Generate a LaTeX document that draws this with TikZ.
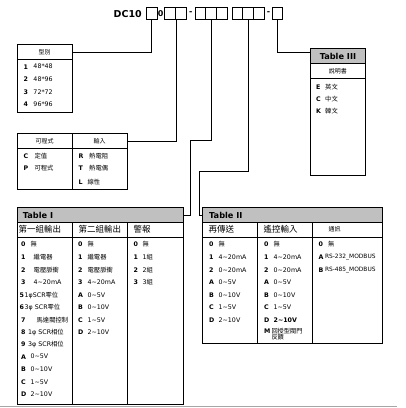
\documentclass[tikz,border=0pt]{standalone}
\usepackage{fontspec}
\setmainfont{DejaVu Sans}
\newfontfamily\cjk{Noto Sans CJK TC}
\definecolor{headgray}{RGB}{192,192,192}
\newcommand\tld{\textasciitilde}
\begin{document}
\begin{tikzpicture}[x=1pt,y=-1pt,
  frame/.style={draw=black, line width=0.9pt, rectangle, inner sep=0pt, anchor=north west},
  hdr/.style={frame, fill=headgray},
  tbox/.style={frame, minimum height=12pt},
  it/.style={anchor=west, inner sep=0pt, font=\fontsize{6.3}{7}\selectfont},
  lb/.style={anchor=west, inner sep=0pt, font=\fontsize{6.3}{7}\selectfont\bfseries},
  small/.style={font=\fontsize{6}{7}\cjk},
  colh/.style={anchor=west, inner sep=0pt, font=\fontsize{8.5}{9}\cjk},
  ttl/.style={inner sep=0pt, font=\fontsize{8.2}{9}\selectfont\bfseries},
  conn/.style={draw=black, line width=0.8pt}]
\useasboundingbox (0,0) rectangle (406,408);

% ---------- top code ----------
\node[anchor=west, inner sep=0pt, font=\fontsize{9.5}{10}\selectfont\bfseries] (dc) at (113.5,13.7) {DC10};
\node[tbox, minimum width=11.3pt] (b1) at (145.7,7.3) {};
\node[inner sep=0pt, font=\fontsize{8}{9}\selectfont\bfseries] (zero) at (160.6,13.7) {0};
\node[tbox, minimum width=11pt] (b2a) at (164.3,7.3) {};
\node[tbox, minimum width=10.7pt] (b2b) at (175.3,7.3) {};
\node[inner sep=0pt, font=\fontsize{8}{9}\selectfont\bfseries] (d1) at (190.8,13.5) {-};
\node[tbox, minimum width=10pt] (b3a) at (195,7.3) {};
\node[tbox, minimum width=11pt] (b3b) at (205,7.3) {};
\node[tbox, minimum width=10.7pt] (b3c) at (216,7.3) {};
\node[tbox, minimum width=10.3pt] (b4a) at (232,7.3) {};
\node[tbox, minimum width=11pt] (b4b) at (242.3,7.3) {};
\node[tbox, minimum width=10.4pt] (b4c) at (253.3,7.3) {};
\node[inner sep=0pt, font=\fontsize{8}{9}\selectfont\bfseries] (d2) at (268.5,13.5) {-};
\node[tbox, minimum width=10pt] (b5) at (272.3,7.3) {};

% ---------- type box ----------
\node[frame, minimum width=55pt, minimum height=15pt, small] (typehead) at (16.7,44.3) {型別};
\node[frame, minimum width=55pt, minimum height=52.4pt] (typebody) at (16.7,59.3) {};
\foreach \y/\l/\v [count=\i] in {66.7/1/48*48, 79.3/2/48*96, 92.3/3/72*72, 104.3/4/96*96}
  { \node[lb] (ty\i) at (23.3,\y) {\l}; \node[it] (tyv\i) at (33.3,\y) {\v}; }

% ---------- program / input box ----------
\node[frame, minimum width=55pt, minimum height=15.6pt, small] (inh1) at (16.7,132.7) {可程式};
\node[frame, minimum width=55pt, minimum height=15.6pt, small] (inh2) at (71.7,132.7) {輸入};
\node[frame, minimum width=55pt, minimum height=40.4pt] (inb1) at (16.7,148.3) {};
\node[frame, minimum width=55pt, minimum height=40.4pt] (inb2) at (71.7,148.3) {};
\node[lb] (pc) at (23.3,156) {C}; \node[it] (pcv) at (34.3,156) {\cjk 定值};
\node[lb] (pp) at (23.3,168.3) {P}; \node[it] (ppv) at (34.3,168.3) {\cjk 可程式};
\node[lb] (ir) at (78.3,156) {R}; \node[it] (irv) at (89,156) {\cjk 熱電阻};
\node[lb] (itt) at (78.3,168.3) {T}; \node[it] (itv) at (89,168.3) {\cjk 熱電偶};
\node[lb] (il) at (78.3,181.7) {L}; \node[it] (ilv) at (87.5,181.7) {\cjk 線性};

% ---------- Table III ----------
\node[hdr, minimum width=55pt, minimum height=15pt, ttl] (t3head) at (310,48.3) {Table III};
\node[frame, minimum width=55pt, minimum height=15pt, small] (t3sub) at (310,63.3) {說明書};
\node[frame, minimum width=55pt, minimum height=96.7pt] (t3body) at (310,78.3) {};
\foreach \y/\l/\v [count=\i] in {86.7/E/英文, 99.3/C/中文, 111/K/韓文}
  { \node[lb] (t3l\i) at (316,\y) {\l}; \node[it] (t3v\i) at (325,\y) {\cjk \v}; }

% ---------- Table I ----------
\node[hdr, minimum width=166pt, minimum height=15pt] (t1head) at (16.7,207.3) {};
\node[ttl, anchor=west] (t1title) at (22.7,215) {Table I};
\node[frame, minimum width=55pt, minimum height=14.4pt] (t1c1) at (16.7,222.3) {};
\node[frame, minimum width=55.6pt, minimum height=14.4pt] (t1c2) at (71.7,222.3) {};
\node[frame, minimum width=55.4pt, minimum height=14.4pt] (t1c3) at (127.3,222.3) {};
\node[frame, minimum width=55pt, minimum height=167.3pt] (t1b1) at (16.7,236.7) {};
\node[frame, minimum width=55.6pt, minimum height=167.3pt] (t1b2) at (71.7,236.7) {};
\node[frame, minimum width=55.4pt, minimum height=167.3pt] (t1b3) at (127.3,236.7) {};
\node[colh] (t1h1) at (18.5,229.6) {第一組輸出};
\node[colh] (t1h2) at (78.5,229.6) {第二組輸出};
\node[colh] (t1h3) at (133.3,229.6) {警報};
\foreach \y/\lx/\l/\vx/\v [count=\i] in {
  244.3/21/0/30.5/{\cjk 無},
  257.3/21/1/33.5/{\cjk 繼電器},
  270.3/21/2/33.5/{\cjk 電壓脈衝},
  282.3/21/3/33.5/{4\tld20mA},
  295/19.5/5/24.5/{1φSCR{\cjk 零位}},
  307.3/19.5/6/24.5/{3φ SCR{\cjk 零位}},
  320/21/7/36.5/{\cjk 馬達閥控制},
  332.3/21/8/28/{1φ SCR{\cjk 相位}},
  344.3/21/9/28/{3φ SCR{\cjk 相位}},
  356.7/21/A/30.5/{0\tld5V},
  369.3/21/B/30.5/{0\tld10V},
  382/21/C/30.5/{1\tld5V},
  394.3/21/D/30.5/{2\tld10V}}
  { \node[lb] (t1a\i) at (\lx,\y) {\l}; \node[it] (t1av\i) at (\vx,\y) {\v}; }
\foreach \y/\l/\v [count=\i] in {
  244.3/0/{\cjk 無}, 257.3/1/{\cjk 繼電器}, 270.3/2/{\cjk 電壓脈衝}, 282.3/3/{4\tld20mA},
  295/A/{0\tld5V}, 307.3/B/{0\tld10V}, 320/C/{1\tld5V}, 332.3/D/{2\tld10V}}
  { \node[lb] (t1b\i) at (78,\y) {\l}; \node[it] (t1bv\i) at (87.5,\y) {\v}; }
\foreach \y/\l/\v [count=\i] in {
  244.3/0/{\cjk 無}, 257.3/1/{1{\cjk 組}}, 270.3/2/{2{\cjk 組}}, 282.3/3/{3{\cjk 組}}}
  { \node[lb] (t1c\i) at (133.3,\y) {\l}; \node[it] (t1cv\i) at (142.5,\y) {\v}; }

% ---------- Table II ----------
\node[hdr, minimum width=180pt, minimum height=15pt] (t2head) at (202.3,207.3) {};
\node[ttl, anchor=west] (t2title) at (209,215) {Table II};
\node[frame, minimum width=55pt, minimum height=14.4pt] (t2c1) at (202.3,222.3) {};
\node[frame, minimum width=55pt, minimum height=14.4pt] (t2c2) at (257.3,222.3) {};
\node[frame, minimum width=70pt, minimum height=14.4pt] (t2c3) at (312.3,222.3) {};
\node[frame, minimum width=55pt, minimum height=106.6pt] (t2b1) at (202.3,236.7) {};
\node[frame, minimum width=55pt, minimum height=106.6pt] (t2b2) at (257.3,236.7) {};
\node[frame, minimum width=70pt, minimum height=106.6pt] (t2b3) at (312.3,236.7) {};
\node[colh] (t2h1) at (208.5,229.6) {再傳送};
\node[colh] (t2h2) at (263.3,229.6) {遙控輸入};
\node[anchor=west, inner sep=0pt, small] (t2h3) at (328.3,229.6) {通訊};
\foreach \y/\l/\v [count=\i] in {
  244.3/0/{\cjk 無}, 257.3/1/{4\tld20mA}, 270.3/2/{0\tld20mA},
  282.3/A/{0\tld5V}, 295/B/{0\tld10V}, 307.3/C/{1\tld5V}, 320/D/{2\tld10V}}
  { \node[lb] (t2a\i) at (209,\y) {\l}; \node[it] (t2av\i) at (218.5,\y) {\v}; }
\foreach \y/\l/\v [count=\i] in {
  244.3/0/{\cjk 無}, 257.3/1/{4\tld20mA}, 270.3/2/{0\tld20mA},
  282.3/A/{0\tld5V}, 295/B/{0\tld10V}, 307.3/C/{1\tld5V}}
  { \node[lb] (t2b\i) at (264,\y) {\l}; \node[it] (t2bv\i) at (273.5,\y) {\v}; }
\node[lb] (t2b7) at (264,320) {D}; \node[lb] (t2bv7) at (273.5,320) {2\tld10V};
\node[lb] (t2b8) at (264,331) {M};
\node[it, anchor=north west, align=left, font=\fontsize{6.2}{6.4}\cjk] (t2bv8) at (271.3,327.6) {回授型閥門\\反饋};
\node[lb] (t2c1l) at (318.3,244.3) {0}; \node[it] (t2c1v) at (328,244.3) {\cjk 無};
\node[lb] (t2c2l) at (318.3,257.3) {A}; \node[it, font=\fontsize{5.9}{7}\selectfont] (t2c2v) at (324.8,257.3) {RS-232\_MODBUS};
\node[lb] (t2c3l) at (318.3,270.3) {B}; \node[it, font=\fontsize{5.9}{7}\selectfont] (t2c3v) at (324.8,270.3) {RS-485\_MODBUS};

% ---------- connectors ----------
\coordinate (k3) at (190.7,140.7);
\coordinate (k4) at (199,171);
\draw[conn] (b1.south) |- (typehead.east);
\draw[conn] (b2a.south east) |- (inh2.east);
\draw[conn] (b3b.south) |- (k3) |- (t1head.east);
\draw[conn] (b4b.south) |- (k4) |- (t2head.west);
\draw[conn] (b5.south) |- ([yshift=3.5pt]t3head.west);

% bottom rule
\coordinate (rl) at (0,406.8);
\coordinate (rr) at (396.7,406.8);
\draw[black!35, line width=0.8pt] (rl) -- (rr);
\end{tikzpicture}
\end{document}
